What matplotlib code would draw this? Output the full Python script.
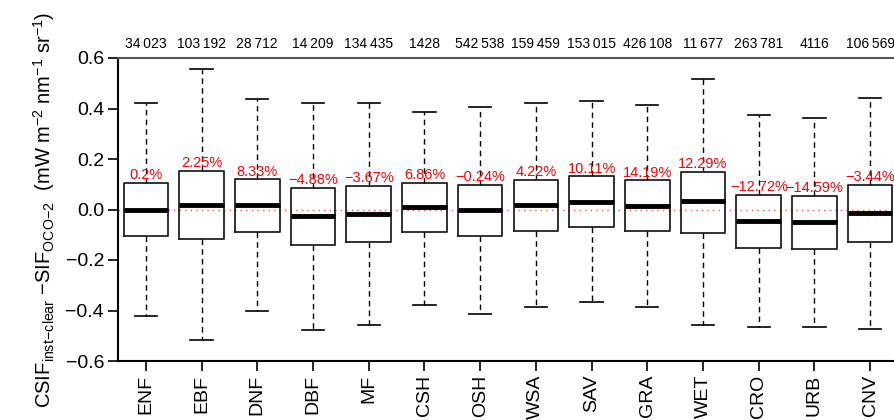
import matplotlib
matplotlib.use("Agg")
import matplotlib.pyplot as plt

plt.rcParams['font.family'] = ['Liberation Sans', 'DejaVu Sans']
plt.rcParams['mathtext.fontset'] = 'custom'
plt.rcParams['mathtext.rm'] = 'Liberation Sans'
plt.rcParams['mathtext.it'] = 'Liberation Sans'

# land cover classes
classes = ['ENF', 'EBF', 'DNF', 'DBF', 'MF', 'CSH', 'OSH',
           'WSA', 'SAV', 'GRA', 'WET', 'CRO', 'URB', 'CNV']
counts = ['34\u2009023', '103\u2009192', '28\u2009712', '14\u2009209', '134\u2009435', '1428',
          '542\u2009538', '159\u2009459', '153\u2009015', '426\u2009108', '11\u2009677',
          '263\u2009781', '4116', '106\u2009569']
pct = ['0.2%', '2.25%', '8.33%', '\u22124.88%', '\u22123.67%', '6.86%', '\u22120.24%',
       '4.22%', '10.11%', '14.19%', '12.29%', '\u221212.72%', '\u221214.59%', '\u22123.44%']

# box stats
whislo = [-0.423, -0.516, -0.402, -0.478, -0.456, -0.377, -0.412,
          -0.388, -0.368, -0.388, -0.459, -0.467, -0.467, -0.472]
q1 = [-0.106, -0.115, -0.090, -0.139, -0.127, -0.089, -0.103,
      -0.086, -0.069, -0.087, -0.094, -0.152, -0.156, -0.130]
med = [0.000, 0.018, 0.016, -0.024, -0.016, 0.010, -0.003,
       0.017, 0.030, 0.014, 0.034, -0.044, -0.048, -0.013]
q3 = [0.106, 0.153, 0.119, 0.086, 0.094, 0.106, 0.099,
      0.118, 0.131, 0.115, 0.149, 0.058, 0.054, 0.098]
whishi = [0.420, 0.556, 0.437, 0.423, 0.422, 0.387, 0.405,
          0.422, 0.431, 0.415, 0.516, 0.374, 0.364, 0.442]

stats = []
for i in range(len(classes)):
    stats.append(dict(label=classes[i], whislo=whislo[i], q1=q1[i], med=med[i],
                      q3=q3[i], whishi=whishi[i], fliers=[]))

fig = plt.figure(figsize=(8.95, 4.2), dpi=100)
ax = fig.add_axes([118/895, 59/420, 780/895, 303/420])

pos = list(range(1, len(classes) + 1))
ax.axhline(0, color='#ff5050', ls=(0, (1, 3)), lw=1, zorder=1)
ax.bxp(stats, positions=pos, widths=0.8, showfliers=False,
       boxprops=dict(color='#222222', lw=1.3),
       medianprops=dict(color='black', lw=3.5),
       whiskerprops=dict(color='black', lw=1, ls=(0, (4, 3))),
       capprops=dict(color='black', lw=1.2))

for i in range(len(classes)):
    ax.text(pos[i], q3[i] + 0.003, pct[i], color='red', fontsize=10.5,
            ha='center', va='bottom')
    ax.text(pos[i], 0.657, counts[i], color='black', fontsize=10,
            ha='center', va='center', clip_on=False)

ax.set_xlim(0.5, 14.5)
ax.set_ylim(-0.6, 0.6)
ax.set_yticks([-0.6, -0.4, -0.2, 0.0, 0.2, 0.4, 0.6])
ax.set_yticklabels(['\u22120.6', '\u22120.4', '\u22120.2', '0.0', '0.2', '0.4', '0.6'])
ax.set_xticks(pos)
ax.set_xticklabels(classes, rotation=90)
ax.tick_params(axis='both', labelsize=14, length=7, width=1.2, direction='out', pad=3)

ax.spines['right'].set_visible(False)
ax.spines['left'].set_linewidth(1.5)
ax.spines['bottom'].set_linewidth(1.5)
ax.spines['top'].set_color('#555555')
ax.spines['top'].set_linewidth(1.5)

ax.set_ylabel(r'CSIF$_{\mathregular{inst\!-\!clear}}$ $\mathregular{-}$SIF$_{\mathregular{OCO\!-\!2}}$  '
              r'(mW m$^{\mathregular{-2}}$ nm$^{\mathregular{-1}}$ sr$^{\mathregular{-1}}$)',
              fontsize=14.5, labelpad=6)

fig.savefig('out.png', dpi=100)
